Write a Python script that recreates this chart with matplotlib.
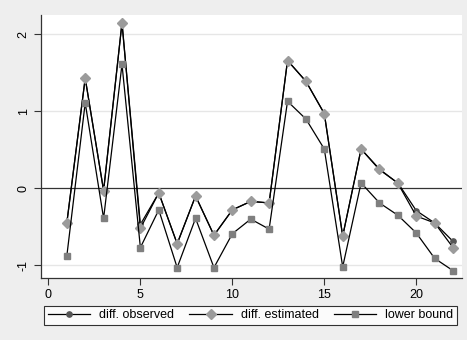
import matplotlib
matplotlib.use("Agg")
import matplotlib.pyplot as plt

x = list(range(1, 23))
diff_observed = [-0.45, 1.43, -0.03, 2.15, -0.47, -0.06, -0.72, -0.10, -0.61, -0.28, -0.17,
                 -0.19, 1.66, 1.39, 0.97, -0.62, 0.51, 0.24, 0.07, -0.29, -0.45, -0.69]
diff_estimated = [-0.45, 1.43, -0.03, 2.15, -0.52, -0.06, -0.72, -0.10, -0.61, -0.28, -0.17,
                  -0.19, 1.66, 1.39, 0.97, -0.62, 0.51, 0.25, 0.065, -0.36, -0.45, -0.77]
lower_bound = [-0.88, 1.11, -0.39, 1.61, -0.77, -0.28, -1.03, -0.39, -1.03, -0.59, -0.40,
               -0.53, 1.13, 0.90, 0.51, -1.02, 0.07, -0.19, -0.35, -0.58, -0.91, -1.07]
labels = ["diff. observed", "diff. estimated", "lower bound"]
xticks = [0, 5, 10, 15, 20]
yticks = [-1, 0, 1, 2]

plt.rcParams['font.family'] = ['Liberation Sans', 'DejaVu Sans']

W, H = 467, 340
fig = plt.figure(figsize=(W / 100, H / 100), dpi=100)
fig.patch.set_facecolor('#EEEEEE')
ax = fig.add_axes([40.7 / W, 1 - 278 / H, (461.7 - 40.7) / W, (278 - 14.7) / H])
ax.set_facecolor('white')

for yv in [-1, 1, 2]:
    ax.axhline(yv, color='#E6E6E6', lw=1.0, zorder=0)
ax.axhline(0, color='#333333', lw=0.9, zorder=1)

l1, = ax.plot(x, diff_observed, color='black', lw=0.9, marker='o', ms=3.8,
              mfc='#555555', mec='#555555', zorder=2)
l2, = ax.plot(x, diff_estimated, color='black', lw=0.9, marker='D', ms=5.5,
              mfc='#9B9B9B', mec='#9B9B9B', zorder=3)
l3, = ax.plot(x, lower_bound, color='black', lw=0.9, marker='s', ms=5.0,
              mfc='#7F7F7F', mec='#7F7F7F', zorder=4)

ax.set_xlim(-0.42, 22.47)
ax.set_ylim(-1.165, 2.255)
ax.set_xticks(xticks)
ax.set_yticks(yticks)
ax.set_yticklabels([str(v) for v in yticks], rotation=90, va='center')
ax.tick_params(axis='both', direction='out', length=5, width=0.8, color='#333333',
               labelsize=9, pad=3)
for s in ['top', 'right']:
    ax.spines[s].set_visible(False)
for s in ['left', 'bottom']:
    ax.spines[s].set_color('#333333')
    ax.spines[s].set_linewidth(0.9)

leg = fig.legend([l1, l2, l3], labels, ncol=3, loc='center',
                 bbox_to_anchor=(44 / W, 1 - 326 / H, (457 - 44) / W, 21 / H),
                 mode='expand', fontsize=9, handlelength=3.4, handletextpad=0.7,
                 frameon=True, fancybox=False, borderaxespad=0, borderpad=0.3)
leg.get_frame().set_edgecolor('black')
leg.get_frame().set_linewidth(0.8)
leg.get_frame().set_facecolor('white')

fig.savefig('out.png', dpi=100, facecolor=fig.get_facecolor())
